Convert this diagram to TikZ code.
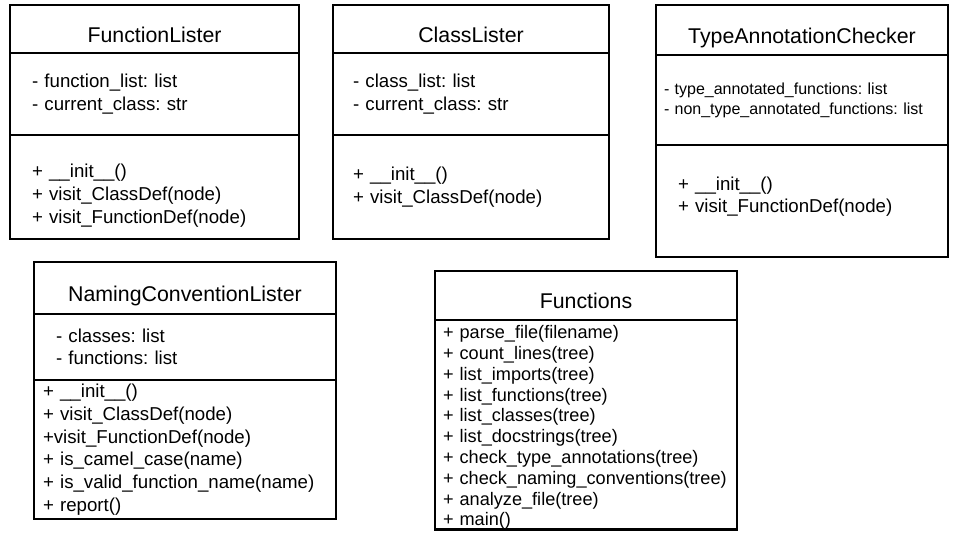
\documentclass[tikz,border=0pt]{standalone}
\usepackage{fontspec}
\setmainfont{Liberation Sans}
\frenchspacing
\tikzset{
  umlpart/.style={draw, line width=2.2pt, outer sep=0pt, inner ysep=0pt, anchor=north west},
  umltitle/.style={umlpart, font=\fontsize{16}{19}\selectfont, text height=19.5pt, text depth=0pt},
  umlbody/.style={umlpart, align=left, font=\fontsize{14}{17.25}\selectfont},
}

\begin{document}
\begin{tikzpicture}[x=0.75pt, y=-0.75pt]
  \useasboundingbox (0,0) rectangle (960,540);
  % FunctionLister
  \node[umltitle, minimum width=216.75pt, minimum height=36pt] (fl) at (10,5) {FunctionLister};
  \node[umlbody, minimum height=61.5pt, inner xsep=16.5pt, text width=183.75pt] (fl-attr) at (fl.south west)
    {- function\_list: list\\- current\_class: str};
  \node[umlbody, minimum height=78pt, inner xsep=16.5pt, text width=183.75pt] (fl-ops) at (fl-attr.south west)
    {\rule{0pt}{23pt}+ \_\_init\_\_()\\+ visit\_ClassDef(node)\\+ visit\_FunctionDef(node)};
  % ClassLister
  \node[umltitle, minimum width=207pt, minimum height=36pt] (cl) at (333,5) {ClassLister};
  \node[umlbody, minimum height=61.5pt, inner xsep=15pt, text width=177pt] (cl-attr) at (cl.south west)
    {- class\_list: list\\- current\_class: str};
  \node[umlbody, minimum height=78pt, inner xsep=15pt, text width=177pt] (cl-ops) at (cl-attr.south west)
    {+ \_\_init\_\_()\\+ visit\_ClassDef(node)};
  % TypeAnnotationChecker
  \node[umltitle, minimum width=219pt, minimum height=37.5pt] (tac) at (656,5) {TypeAnnotationChecker};
  \node[umlbody, minimum height=67.5pt, inner xsep=6pt, text width=207pt, font=\fontsize{12}{15}\selectfont] (tac-attr) at (tac.south west)
    {- type\_annotated\_functions: list\\- non\_type\_annotated\_functions: list};
  \node[umlbody, minimum height=84pt, inner xsep=16.5pt, text width=186pt, font=\fontsize{14}{16.5}\selectfont] (tac-ops) at (tac-attr.south west)
    {+ \_\_init\_\_()\\+ visit\_FunctionDef(node)\rule[-9pt]{0pt}{9pt}};
  % NamingConventionLister
  \node[umltitle, minimum width=226.5pt, minimum height=39pt] (ncl) at (34,262) {NamingConventionLister};
  \node[umlbody, minimum height=49.5pt, inner xsep=16.5pt, text width=193.5pt, font=\fontsize{14}{16.5}\selectfont] (ncl-attr) at (ncl.south west)
    {- classes: list\\- functions: list};
  \node[umlbody, minimum height=104.25pt, inner xsep=6.75pt, text width=213pt, font=\fontsize{14}{17}\selectfont] (ncl-ops) at (ncl-attr.south west)
    {+ \_\_init\_\_()\\+ visit\_ClassDef(node)\\+visit\_FunctionDef(node)\\+ is\_camel\_case(name)\\+ is\_valid\_function\_name(name)\\+ report()};
  % Functions
  \node[umltitle, minimum width=226.5pt, minimum height=36.75pt] (fn) at (435,271) {Functions};
  \node[umlbody, minimum height=154.5pt, inner xsep=6pt, text width=214.5pt, font=\fontsize{13.6}{15.6}\selectfont] (fn-ops) at (fn.south west)
    {\rule{0pt}{14pt}+ parse\_file(filename)\\+ count\_lines(tree)\\+ list\_imports(tree)\\+ list\_functions(tree)\\+ list\_classes(tree)\\+ list\_docstrings(tree)\\+ check\_type\_annotations(tree)\\+ check\_naming\_conventions(tree)\\+ analyze\_file(tree)\\+ main()};
\end{tikzpicture}
\end{document}
